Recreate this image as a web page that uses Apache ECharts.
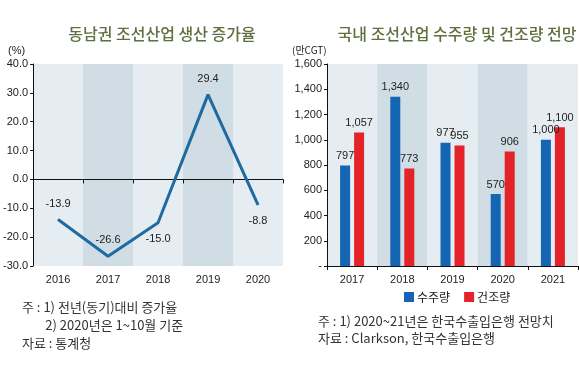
<!DOCTYPE html>
<html><head><meta charset="utf-8">
<script src="https://cdn.jsdelivr.net/npm/echarts@6/dist/echarts.min.js"></script>
<style>html,body{margin:0;padding:0;background:#fff}#c{width:580px;height:380px}</style>
</head><body><div id="c"></div>
<script>
// ---- data ----
const lineYears = ['2016', '2017', '2018', '2019', '2020'];
const growthRate = [-13.9, -26.6, -15.0, 29.4, -8.8];
const barYears = ['2017', '2018', '2019', '2020', '2021'];
const orders = [797, 1340, 977, 570, 1000];     // 수주량
const built = [1057, 773, 955, 906, 1100];      // 건조량
const leftTicks = [-30, -20, -10, 0, 10, 20, 30, 40];
const rightTicks = [0, 200, 400, 600, 800, 1000, 1200, 1400, 1600];

const NUM = '"Liberation Sans",Arial,sans-serif';
const KR = '"Noto Sans CJK KR","Noto Sans",sans-serif';
const bands = ['#e6edf2', '#d0dde5'];
const lineLabelPos = ['top', 'top', 'bottom', 'top', 'bottom'];

const chart = echarts.init(document.getElementById('c'), null, {renderer: 'canvas'});

function fmtThousands(v) {
  if (v === 0) return '-';
  return v.toLocaleString('en-US');
}

const noteStyle = {fontFamily: KR, fontSize: 13, color: '#333', fontWeight: 'normal'};

chart.setOption({
  animation: false,
  title: [
    {text: '동남권 조선산업 생산 증가율', left: 157, top: 21, textAlign: 'center',
     textStyle: {fontFamily: KR, fontSize: 16, fontWeight: 500, color: '#5f7040'}},
    {text: '국내 조선산업 수주량 및 건조량 전망', left: 452, top: 21, textAlign: 'center',
     textStyle: {fontFamily: KR, fontSize: 16, fontWeight: 500, color: '#5f7040'}},
    {text: '(%)', left: 8, top: 45, padding: 0,
     textStyle: {fontFamily: NUM, fontSize: 11, fontWeight: 'normal', color: '#222'}},
    {text: '(만CGT)', left: 292, top: 45, padding: 0,
     textStyle: {fontFamily: KR, fontSize: 10, fontWeight: 'normal', color: '#222'}},
    {text: '주 : 1) 전년(동기)대비 증가율\n        2) 2020년은 1~10월 기준\n자료 : 통계청', left: 22, top: 298, padding: 0,
     textStyle: Object.assign({lineHeight: 18}, noteStyle)},
    {text: '주 : 1) 2020~21년은 한국수출입은행 전망치\n자료 : Clarkson, 한국수출입은행', left: 318, top: 313, padding: 0,
     textStyle: Object.assign({lineHeight: 17}, noteStyle)}
  ],
  legend: {
    left: 404, top: 291, padding: 0, itemWidth: 10, itemHeight: 10, itemGap: 14,
    icon: 'rect',
    textStyle: {fontFamily: KR, fontSize: 12, color: '#222', padding: [0, 0, 0, -2]},
    data: ['수주량', '건조량']
  },
  grid: [
    {left: 33, top: 64, width: 250, height: 202},
    {left: 327, top: 64, width: 251, height: 202}
  ],
  xAxis: [
    // left: zero line with ticks
    {type: 'category', gridIndex: 0, data: lineYears, boundaryGap: true,
     axisLine: {onZero: true, lineStyle: {color: '#111', width: 1}},
     axisTick: {show: true, inside: false, length: 4, lineStyle: {color: '#111'}},
     axisLabel: {show: false}, splitLine: {show: false}},
    // left: bands + labels at bottom
    {type: 'category', gridIndex: 0, data: lineYears, position: 'bottom', boundaryGap: true,
     axisLine: {show: false, onZero: false}, axisTick: {show: false},
     axisLabel: {fontFamily: NUM, fontSize: 11, color: '#222', margin: 8},
     splitArea: {show: true, areaStyle: {color: bands}}},
    // right
    {type: 'category', gridIndex: 1, data: barYears, boundaryGap: true,
     axisLine: {lineStyle: {color: '#111'}},
     axisTick: {show: true, length: 4, lineStyle: {color: '#111'}},
     axisLabel: {fontFamily: NUM, fontSize: 11, color: '#222', margin: 8},
     splitArea: {show: true, areaStyle: {color: bands}}}
  ],
  yAxis: [
    {type: 'value', gridIndex: 0, min: leftTicks[0], max: leftTicks[leftTicks.length - 1], interval: 10,
     axisLine: {show: true, lineStyle: {color: '#111'}},
     axisTick: {show: true, length: 3, lineStyle: {color: '#111'}},
     axisLabel: {fontFamily: NUM, fontSize: 11, color: '#222', margin: 5,
                 formatter: v => v.toFixed(1)},
     splitLine: {show: false}},
    {type: 'value', gridIndex: 1, min: rightTicks[0], max: rightTicks[rightTicks.length - 1], interval: 200,
     axisLine: {show: true, lineStyle: {color: '#111'}},
     axisTick: {show: true, length: 3, lineStyle: {color: '#111'}},
     axisLabel: {fontFamily: NUM, fontSize: 11, color: '#222', margin: 5, formatter: fmtThousands},
     splitLine: {show: false}}
  ],
  series: [
    {type: 'line', xAxisIndex: 0, yAxisIndex: 0,
     data: growthRate.map((v, i) => ({value: v, label: {position: lineLabelPos[i]}})),
     symbol: 'circle', symbolSize: 1, showSymbol: true,
     lineStyle: {color: '#1f6a9f', width: 3}, itemStyle: {color: '#1f6a9f'},
     label: {show: true, distance: 10, fontFamily: NUM, fontSize: 11, color: '#222',
             formatter: p => p.value.toFixed(1)}},
    {name: '수주량', type: 'bar', xAxisIndex: 2, yAxisIndex: 1, data: orders,
     barWidth: 10, barGap: '40%', itemStyle: {color: '#1565b5'},
     label: {show: true, position: 'top', distance: 4, fontFamily: NUM, fontSize: 11, color: '#222',
             formatter: p => fmtThousands(p.value)}},
    {name: '건조량', type: 'bar', xAxisIndex: 2, yAxisIndex: 1, data: built,
     barWidth: 10, barGap: '40%', itemStyle: {color: '#e42328'},
     label: {show: true, position: 'top', distance: 4, fontFamily: NUM, fontSize: 11, color: '#222',
             formatter: p => fmtThousands(p.value)}}
  ]
});
</script></body></html>
